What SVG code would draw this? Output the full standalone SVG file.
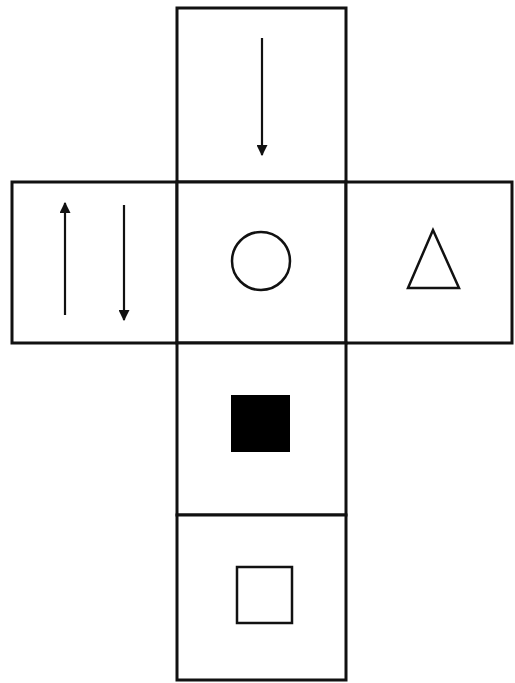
<svg xmlns="http://www.w3.org/2000/svg" width="515" height="683" viewBox="0 0 515 683">
<style>
.face{fill:#fff;stroke:#111;stroke-width:3}
.ln{stroke:#111;stroke-width:2.2;fill:none}
.shape{fill:none;stroke:#111;stroke-width:2.5}
</style>
<defs>
<marker id="ah" viewBox="0 0 10 10" refX="9" refY="5" markerWidth="5" markerHeight="5" orient="auto" markerUnits="strokeWidth">
<path d="M0,0 L10,5 L0,10 z" fill="#111"/>
</marker>
</defs>
<rect width="515" height="683" fill="#fff"/>
<g id="face-top"><rect class="face" x="177" y="8" width="169" height="174"/></g>
<g id="face-left"><rect class="face" x="12" y="182" width="165" height="161"/></g>
<g id="face-center"><rect class="face" x="177" y="182" width="169" height="161"/>
<circle class="shape" cx="261" cy="261" r="29"/></g>
<g id="face-right"><rect class="face" x="346" y="182" width="166" height="161"/>
<polygon class="shape" points="433,230 408,288 459,288"/></g>
<g id="face-black"><rect class="face" x="177" y="343" width="169" height="172"/>
<rect x="231" y="395" width="59" height="57" fill="#000"/></g>
<g id="face-bottom"><rect class="face" x="177" y="515" width="169" height="165"/>
<rect class="shape" x="237" y="567" width="55" height="56"/></g>
<g id="connectors">
<line class="ln" x1="262" y1="38" x2="262" y2="155" marker-end="url(#ah)"/>
<line class="ln" x1="65" y1="315" x2="65" y2="203" marker-end="url(#ah)"/>
<line class="ln" x1="124" y1="205" x2="124" y2="320" marker-end="url(#ah)"/>
</g>
</svg>
